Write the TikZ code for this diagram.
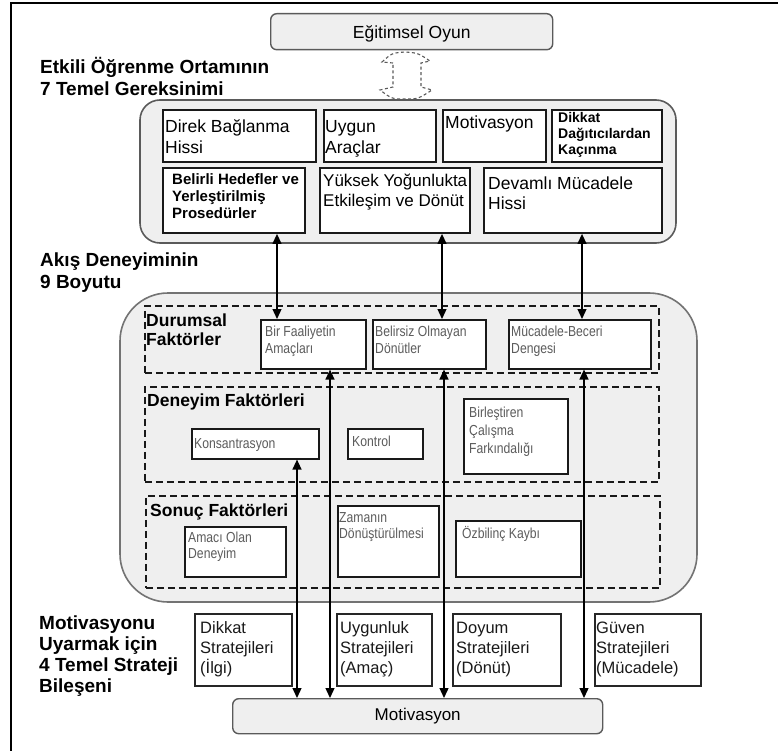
\documentclass[tikz,border=0pt]{standalone}
\usepackage{fontspec}
\setmainfont{Liberation Sans}
\newfontfamily\narrowsans[FakeStretch=0.84]{Liberation Sans}
\usetikzlibrary{arrows.meta}

\definecolor{panelgrey}{HTML}{EFEFEF}
\definecolor{edgegrey}{HTML}{5A5A5A}
\definecolor{softtext}{HTML}{5C5C5C}

% font size / leading in pt
\newcommand\fsz[2]{\fontsize{#1}{#2}\selectfont}
% invisible rule fixing the height of a first line
\newcommand\topline[1]{\rule{0pt}{#1pt}}

\begin{document}
\begin{tikzpicture}[x=1pt,y=-1pt,
  panel/.style={draw=edgegrey, line width=1.6pt, fill=panelgrey},
  capsule/.style={draw=edgegrey, line width=1.4pt, fill=panelgrey, rounded corners=6pt, anchor=north west, inner sep=0pt},
  needbox/.style={draw=black!90, line width=1.9pt, fill=white, anchor=north west, inner sep=0pt},
  flowbox/.style={draw=black!90, line width=1.6pt, fill=white, anchor=north west, inner sep=0pt},
  stratbox/.style={draw=black!85, line width=1.6pt, fill=white, anchor=north west, inner sep=0pt},
  groupbox/.style={draw=black!90, line width=1.6pt, dash pattern=on 7pt off 4pt, anchor=north west, inner sep=0pt},
  txt/.style={anchor=north west, inner sep=0pt, align=left},
  sidelabel/.style={txt, font=\fsz{19}{22}\bfseries},
  grouplabel/.style={txt, font=\fsz{17.5}{19}\bfseries},
  needtext/.style={txt, font=\fsz{17.5}{21}},
  flowtext/.style={txt, text=softtext, font=\narrowsans\fsz{14.5}{17}},
  strattext/.style={txt, text=black!90, font=\fsz{16.5}{20}},
  link/.style={line width=1.3pt, {Triangle[length=10pt,width=9pt]}-{Triangle[length=10pt,width=9pt]}},
]
\useasboundingbox (0,0) rectangle (778,751);

% page frame
\draw[line width=2.4pt] (778,3) -- (11,3) -- (11,751);

% ---------- game ----------
\node[capsule, minimum width=282pt, minimum height=36pt] (game) at (270,13) {};
\node[font=\fsz{17.5}{21}] (gametxt) at ([yshift=-2pt]game.center) {Eğitimsel Oyun};

% dashed two-way block arrow
\draw[edgegrey, line width=1.1pt, dash pattern=on 3pt off 2.5pt]
  (393,63) -- (382,62) .. controls (392,53) .. (405,52) .. controls (418,53) .. (430,61)
  -- (421,63) -- (421,87) -- (432,90) .. controls (418,99) .. (405,99)
  .. controls (392,99) .. (380,90) -- (393,87) -- cycle;

% ---------- 7 needs ----------
\draw[panel, rounded corners=20pt] (140,100) rectangle (676,243);
\node[needbox, minimum width=153pt, minimum height=52pt] (direk) at (162,109) {};
\node[needbox, minimum width=112pt, minimum height=52pt] (uygun) at (323,109) {};
\node[needbox, minimum width=103pt, minimum height=52pt] (motiv) at (442,109) {};
\node[needbox, minimum width=110pt, minimum height=52pt] (dikkat) at (551,109) {};
\node[needbox, minimum width=142pt, minimum height=65pt] (belirli) at (162,167) {};
\node[needbox, minimum width=150pt, minimum height=65pt] (yuksek) at (319,167) {};
\node[needbox, minimum width=178pt, minimum height=65pt] (devamli) at (483,167) {};

\node[needtext] (t1) at (165,115) {\topline{17.5}Direk Bağlanma\\Hissi};
\node[needtext] (t2) at (325,115) {\topline{17.5}Uygun\\Araçlar};
\node[needtext] (t3) at (445,111) {\topline{17.5}Motivasyon};
\node[txt, font=\fsz{14}{16}\bfseries] (t4) at (558,108) {\topline{14}Dikkat\\Dağıtıcılardan\\Kaçınma};
\node[txt, font=\fsz{15}{17}\bfseries] (t5) at (172,169.5) {\topline{15}Belirli Hedefler ve\\Yerleştirilmiş\\Prosedürler};
\node[txt, font=\fsz{17}{20}] (t6) at (323,169) {\topline{17}Yüksek Yoğunlukta\\Etkileşim ve Dönüt};
\node[needtext, font=\fsz{17.5}{20}] (t7) at (488,172) {\topline{17.5}Devamlı Mücadele\\Hissi};

% ---------- side headings ----------
\node[sidelabel] (h1) at (40,54) {\topline{19}Etkili Öğrenme Ortamının\\7 Temel Gereksinimi};
\node[sidelabel] (h2) at (40,247) {\topline{19}Akış Deneyiminin\\9 Boyutu};
\node[sidelabel, font=\fsz{19}{21}\bfseries] (h3) at (39,610) {\topline{19}Motivasyonu\\Uyarmak için\\4 Temel Strateji\\Bileşeni};

% ---------- 9 flow dimensions ----------
\draw[panel, draw=edgegrey!85, rounded corners=48pt] (120,293) rectangle (697,602);

\node[groupbox, minimum width=514pt, minimum height=67pt] (durumsal) at (144,305) {};
\node[groupbox, minimum width=514pt, minimum height=95pt] (deneyim) at (144,386) {};
\node[groupbox, minimum width=514pt, minimum height=92pt] (sonuc) at (145,495) {};

\node[grouplabel] (g1) at (146,309) {\topline{17.5}Durumsal\\Faktörler};
\node[grouplabel] (g2) at (147,389) {\topline{17.5}Deneyim Faktörleri};
\node[grouplabel] (g3) at (150,499) {\topline{17.5}Sonuç Faktörleri};

\node[flowbox, minimum width=105pt, minimum height=49pt] (amac) at (260,319) {};
\node[flowbox, minimum width=113pt, minimum height=49pt] (donut) at (372,319) {};
\node[flowbox, minimum width=142pt, minimum height=49pt] (denge) at (508,319) {};
\node[flowbox, minimum width=127pt, minimum height=30pt] (kons) at (191,428) {};
\node[flowbox, minimum width=75pt, minimum height=30pt] (kontrol) at (347,428) {};
\node[flowbox, minimum width=104pt, minimum height=75pt] (birles) at (463,398) {};
\node[flowbox, minimum width=101pt, minimum height=50pt] (amacli) at (184,526) {};
\node[flowbox, minimum width=101pt, minimum height=71pt] (zaman) at (337,505) {};
\node[flowbox, minimum width=125pt, minimum height=56pt] (ozb) at (455,520) {};

\node[flowtext] (f1) at (265,322) {\topline{14.5}Bir Faaliyetin\\Amaçları};
\node[flowtext] (f2) at (375,322) {\topline{14.5}Belirsiz Olmayan\\Dönütler};
\node[flowtext] (f3) at (511,322) {\topline{14.5}Mücadele-Beceri\\Dengesi};
\node[flowtext] (f4) at (194,434) {\topline{14.5}Konsantrasyon};
\node[flowtext] (f5) at (352,432) {\topline{14.5}Kontrol};
\node[flowtext, font=\narrowsans\fsz{14.5}{18}] (f6) at (469,403) {\topline{14.5}Birleştiren\\Çalışma\\Farkındalığı};
\node[flowtext, font=\narrowsans\fsz{14.5}{16}] (f7) at (339,508) {\topline{14.5}Zamanın\\Dönüştürülmesi};
\node[flowtext, font=\narrowsans\fsz{14.5}{16}] (f8) at (188,528) {\topline{14.5}Amacı Olan\\Deneyim};
\node[flowtext] (f9) at (462,524) {\topline{14.5}Özbilinç Kaybı};

% ---------- 4 strategies ----------
\node[stratbox, minimum width=97pt, minimum height=72pt] (sdikkat) at (194,613) {};
\node[stratbox, minimum width=95pt, minimum height=72pt] (suygun) at (336,613) {};
\node[stratbox, minimum width=108pt, minimum height=72pt] (sdoyum) at (452,613) {};
\node[stratbox, minimum width=106pt, minimum height=72pt] (sguven) at (594,613) {};

\node[strattext] (s1) at (200,616.5) {\topline{16.5}Dikkat\\Stratejileri\\(İlgi)};
\node[strattext] (s2) at (340,616.5) {\topline{16.5}Uygunluk\\Stratejileri\\(Amaç)};
\node[strattext] (s3) at (456,616.5) {\topline{16.5}Doyum\\Stratejileri\\(Dönüt)};
\node[strattext] (s4) at (596,616.5) {\topline{16.5}Güven\\Stratejileri\\(Mücadele)};

% ---------- motivation ----------
\node[capsule, minimum width=370pt, minimum height=35pt] (motivasyon) at (232,698) {};
\node[font=\fsz{17}{20}] (motivtxt) at (motivasyon.center) {Motivasyon};

% ---------- connectors ----------
\coordinate (xa) at (277,0);
\coordinate (xb) at (442,0);
\coordinate (xc) at (582,0);
\coordinate (xd) at (297,0);
\coordinate (xe) at (330,0);
\coordinate (xf) at (444,0);
\coordinate (xg) at (584,0);

\draw[link] (belirli.south -| xa) -- (amac.north -| xa);
\draw[link] (yuksek.south -| xb) -- (donut.north -| xb);
\draw[link] (devamli.south -| xc) -- (denge.north -| xc);

\draw[link] (kons.south -| xd) -- (motivasyon.north -| xd);
\draw[link] (amac.south -| xe) -- (motivasyon.north -| xe);
\draw[link] (donut.south -| xf) -- (motivasyon.north -| xf);
\draw[link] (denge.south -| xg) -- (motivasyon.north -| xg);
\end{tikzpicture}
\end{document}
